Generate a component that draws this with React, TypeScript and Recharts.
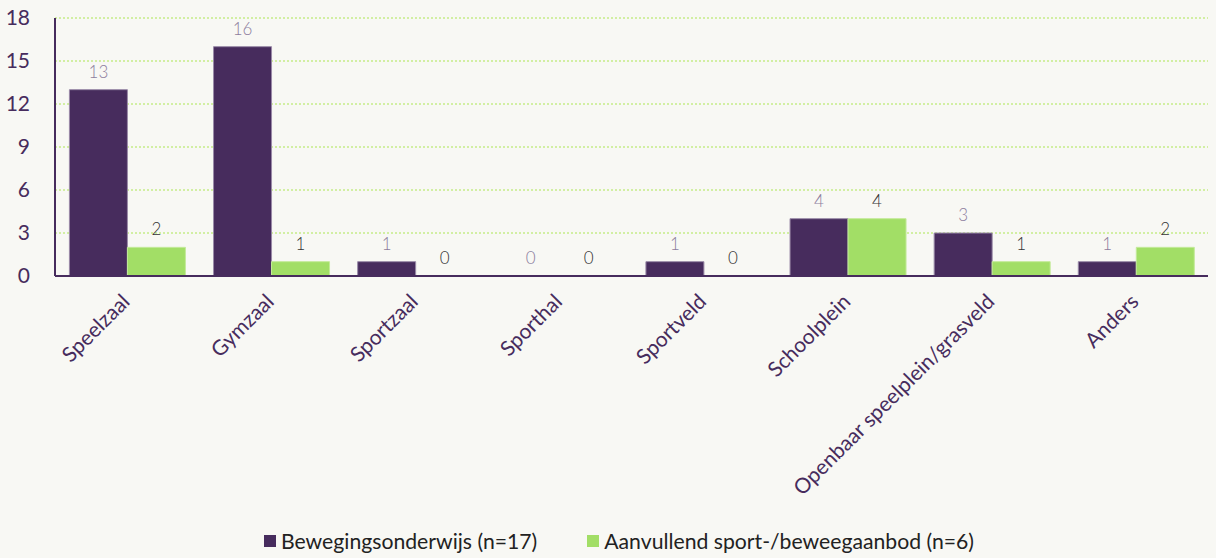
import { BarChart, Bar, XAxis, YAxis, CartesianGrid, LabelList, Legend } from 'recharts'

const categories = ['Speelzaal', 'Gymzaal', 'Sportzaal', 'Sporthal', 'Sportveld', 'Schoolplein', 'Openbaar speelplein/grasveld', 'Anders']
const beweging = [13, 16, 1, 0, 1, 4, 3, 1]
const aanvullend = [2, 1, 0, 0, 0, 4, 1, 2]
const yTicks = [0, 3, 6, 9, 12, 15, 18]

const PURPLE = '#472c5d'
const GREEN = '#a2de66'
const FONT = 'Lato, "Open Sans", sans-serif'

const data = categories.map((name, i) => ({ name, beweging: beweging[i], aanvullend: aanvullend[i] }))

const legendItems = [
    { label: 'Bewegingsonderwijs (n=17)', color: PURPLE },
    { label: 'Aanvullend sport-/beweegaanbod (n=6)', color: GREEN },
]

const XTick = (props: any) => {
    const { x, y, payload } = props
    const tx = x + 4
    const ty = y + 19
    return (
        <text x={tx} y={ty} textAnchor="end" fill={PURPLE} fontSize={21} fontFamily={FONT}
            transform={`rotate(-45, ${tx}, ${ty})`}>
            {payload.value}
        </text>
    )
}

// labels drawn by hand so that the zero values also get one
const makeLabel = (color: string) => (props: any) => {
    const { x, y, width, value } = props
    return (
        <text x={x + width / 2} y={y - 12} textAnchor="middle" fill={color} fontSize={17} fontFamily={FONT} fontWeight={300}>
            {value}
        </text>
    )
}

// tiny size for zeros so the bar (and its label) is still laid out
const zeroSize = (v: number) => (v === 0 ? 0.01 : 0)

const LegendContent = () => (
    <div style={{ display: 'flex', justifyContent: 'center', gap: 50, paddingLeft: 30, fontFamily: FONT, fontSize: 21.2, color: '#222' }}>
        {legendItems.map(it => (
            <div key={it.label} style={{ display: 'flex', alignItems: 'center' }}>
                <span style={{ width: 12, height: 12, background: it.color, marginRight: 5, display: 'inline-block' }} />
                {it.label}
            </div>
        ))}
    </div>
)

export default function App() {
    return (
        <div style={{ position: 'absolute', left: 0, top: 0, width: 1216, height: 558, background: '#f8f8f4' }}>
            <BarChart width={1216} height={558} data={data} barCategoryGap="10%" barGap={0}
                margin={{ top: 18, right: 8, left: 0, bottom: 4 }}>
                <CartesianGrid vertical={false} stroke="#c5ec88" strokeWidth={1.5} strokeDasharray="2 2" />
                <XAxis dataKey="name" interval={0} height={252} tick={<XTick />} tickLine={false}
                    axisLine={{ stroke: PURPLE, strokeWidth: 2 }} />
                <YAxis domain={[0, 18]} ticks={yTicks} width={55} tickLine={false}
                    axisLine={{ stroke: PURPLE, strokeWidth: 2 }}
                    tick={{ fill: PURPLE, fontSize: 21, fontFamily: FONT }} tickMargin={19} />
                <Legend content={<LegendContent />} verticalAlign="bottom" />
                <Bar dataKey="beweging" fill={PURPLE} stroke="#9a8aa8" strokeWidth={1} minPointSize={zeroSize} isAnimationActive={false}>
                    <LabelList dataKey="beweging" content={makeLabel('#8c7d9d')} />
                </Bar>
                <Bar dataKey="aanvullend" fill={GREEN} stroke="#c4ea9a" strokeWidth={1} minPointSize={zeroSize} isAnimationActive={false}>
                    <LabelList dataKey="aanvullend" content={makeLabel('#333')} />
                </Bar>
            </BarChart>
        </div>
    )
}
